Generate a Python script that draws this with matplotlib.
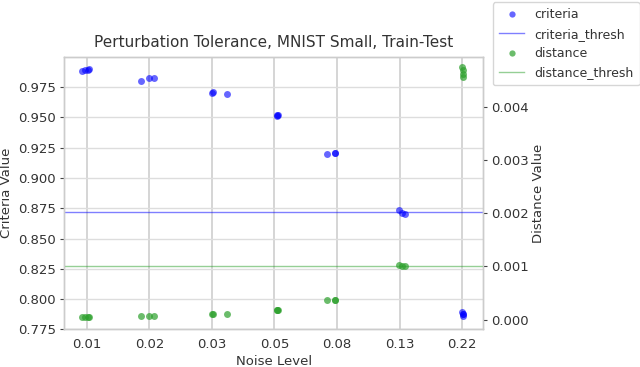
import numpy as np
import matplotlib
matplotlib.use("Agg")
import matplotlib.pyplot as plt
from matplotlib.lines import Line2D

# ---- data ----
tick_values = [0.01, 0.0167, 0.0278, 0.0464, 0.0774, 0.129, 0.215]
tick_labels = ["0.01", "0.02", "0.03", "0.05", "0.08", "0.13", "0.22"]

# per-run noise levels (x) and metrics
noise = [0.00962, 0.00986, 0.0101, 0.0102,
         0.0156, 0.0167, 0.0174,
         0.0278, 0.0281, 0.0315,
         0.0472, 0.0474, 0.0476,
         0.0710, 0.0760, 0.0762,
         0.128, 0.132, 0.135,
         0.2155, 0.216, 0.2165, 0.216]
criteria = [0.9882, 0.9890, 0.9893, 0.9898,
            0.9802, 0.9824, 0.9824,
            0.9702, 0.9708, 0.9696,
            0.9512, 0.9517, 0.9519,
            0.9195, 0.9205, 0.9207,
            0.8739, 0.8711, 0.8700,
            0.7895, 0.7875, 0.7860, 0.7880]
distance = [0.000045, 0.000050, 0.000050, 0.000048,
            0.000068, 0.000068, 0.000070,
            0.000112, 0.000113, 0.000112,
            0.000186, 0.000188, 0.000190,
            0.000376, 0.000376, 0.000378,
            0.00102, 0.00101, 0.00100,
            0.00475, 0.00469, 0.00462, 0.00456]
criteria_thresh = 0.8717
distance_thresh = 0.001

title = "Perturbation Tolerance, MNIST Small, Train-Test"

# ---- figure ----
plt.rcParams['font.family'] = ['DejaVu Sans']
fig = plt.figure(figsize=(6.4, 3.67), dpi=100)
ax = fig.add_axes([0.1, 0.1025, 0.655, 0.7425])
ax2 = ax.twinx()

ax.set_xscale('log')
ax.set_xlim(0.00831, 0.2554)
ax.set_ylim(0.7751, 1.0)
ax2.set_ylim(-0.000183, 0.004935)

grid_c = '#dddddd'
ax.set_axisbelow(True)
ax.grid(True, axis='y', color=grid_c, lw=1.0)
ax.grid(True, axis='x', color='#d5d5d5', lw=1.4)
ax2.grid(False)

blue = '#0000ff'
green = '#2ca02c'
ax.scatter(noise, criteria, s=25, color=blue, alpha=0.6, lw=0, zorder=3)
ax.axhline(criteria_thresh, color=blue, alpha=0.5, lw=1.0, zorder=2)
ax2.scatter(noise, distance, s=25, color=green, alpha=0.7, lw=0, zorder=3)
ax2.axhline(distance_thresh, color=green, alpha=0.5, lw=1.0, zorder=2)

ax.set_xticks(tick_values)
ax.set_xticklabels(tick_labels)
ax.xaxis.set_minor_locator(matplotlib.ticker.NullLocator())
ax.set_yticks(np.arange(0.775, 0.976, 0.025))
ax.set_yticklabels([f"{v:.3f}" for v in np.arange(0.775, 0.976, 0.025)])
ax2.set_yticks([0.0, 0.001, 0.002, 0.003, 0.004])
ax2.set_yticklabels(["0.000", "0.001", "0.002", "0.003", "0.004"])

tc = '#333333'
fs = 9.5
ax.tick_params(axis='x', length=0, pad=6, labelsize=fs, labelcolor=tc)
ax.tick_params(axis='y', length=3, width=0.8, color='#444444', labelsize=fs, labelcolor=tc, pad=3)
ax2.tick_params(axis='y', length=3, width=0.8, color='#444444', labelsize=fs, labelcolor=tc, pad=3)

for a in (ax, ax2):
    for s in a.spines.values():
        s.set_color('#cccccc')
        s.set_linewidth(1.0)

ax.set_xlabel("Noise Level", fontsize=fs, color=tc, labelpad=3)
ax.set_ylabel("Criteria Value", fontsize=fs, color=tc, labelpad=3)
ax2.set_ylabel("Distance Value", fontsize=fs, color=tc, labelpad=2)
ax.set_title(title, fontsize=11, color=tc, pad=7)

handles = [
    Line2D([], [], ls='none', marker='o', ms=4.5, color=blue, alpha=0.6, mew=0),
    Line2D([], [], color=blue, alpha=0.5, lw=1.0),
    Line2D([], [], ls='none', marker='o', ms=4.5, color=green, alpha=0.7, mew=0),
    Line2D([], [], color=green, alpha=0.5, lw=1.0),
]
labels = ["criteria", "criteria_thresh", "distance", "distance_thresh"]
leg = fig.legend(handles, labels, loc='upper left', bbox_to_anchor=(0.770, 0.994),
                 fontsize=9, frameon=True, handlelength=2.0, borderpad=0.5,
                 labelspacing=0.5, handletextpad=0.8, borderaxespad=0)
leg.get_frame().set_edgecolor('#cccccc')
for t in leg.get_texts():
    t.set_color(tc)

fig.savefig("out.png", dpi=100)
